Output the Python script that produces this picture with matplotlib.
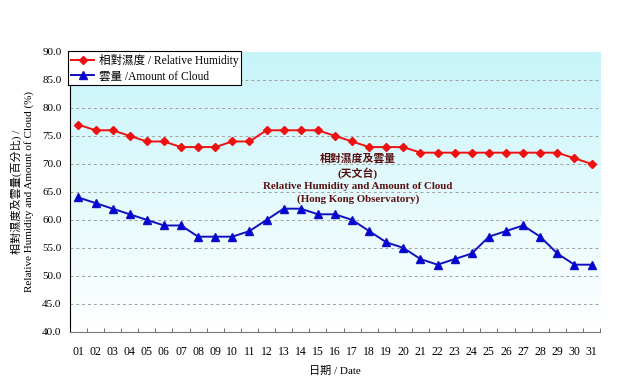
import matplotlib
matplotlib.use('Agg')
import matplotlib.pyplot as plt
import numpy as np

plt.rcParams['font.family'] = ['Liberation Serif', 'Noto Sans CJK TC', 'DejaVu Sans']

# Daily values
days = np.arange(1, 32)
day_labels = ['%02d' % d for d in days]
humidity = [77, 76, 76, 75, 74, 74, 73, 73, 73, 74, 74, 76, 76, 76, 76, 75,
            74, 73, 73, 73, 72, 72, 72, 72, 72, 72, 72, 72, 72, 71, 70]
cloud = [64, 63, 62, 61, 60, 59, 59, 57, 57, 57, 58, 60, 62, 62, 61, 61,
         60, 58, 56, 55, 53, 52, 53, 54, 57, 58, 59, 57, 54, 52, 52]
y_ticks = np.arange(40, 90.1, 5)

fig = plt.figure(figsize=(6.35, 3.9), dpi=100, facecolor='white')
ax = fig.add_axes([0.110, 0.149, 0.835, 0.718])

# background gradient (light cyan at top -> white at bottom)
grad = np.linspace(0, 1, 256).reshape(-1, 1)
top = np.array([0.78, 0.96, 0.98])
bot = np.array([1.0, 1.0, 1.0])
img = bot + (top - bot) * grad
ax.imshow(img.reshape(256, 1, 3), extent=[0, 1, 0, 1], transform=ax.transAxes,
          origin='lower', aspect='auto', zorder=0)

for yv in y_ticks[1:-1]:
    ax.axhline(yv, color='#a0a0a0', lw=0.7, ls=(0, (3, 3)), zorder=1)

ax.plot(days, humidity, color='#ee1111', lw=1.4, marker='D', ms=4,
        label='相對濕度 / Relative Humidity', zorder=3)
ax.plot(days, cloud, color='#1010c0', lw=1.4, marker='^', ms=5.5,
        markerfacecolor='#0000dd', label='雲量 /Amount of Cloud', zorder=3)

ax.set_xlim(0.5, 31.5)
ax.set_ylim(40, 90)
ax.set_yticks(y_ticks)
ax.set_yticklabels(['%.1f' % v for v in y_ticks], fontsize=8)
ax.set_xticks(days)
ax.set_xticklabels(day_labels, fontsize=8.5)
ax.set_xticks(np.arange(0.5, 31.6, 1), minor=True)
ax.tick_params(axis='x', which='major', length=0, pad=10)
ax.tick_params(axis='x', which='minor', length=3, direction='in', color='#555555')
ax.tick_params(axis='y', length=0, pad=6)

for s in ['top', 'right']:
    ax.spines[s].set_visible(False)
ax.spines['left'].set_color('black')
ax.spines['bottom'].set_color('#777777')

ax.set_xlabel('日期 / Date', fontsize=8, labelpad=6)
ax.set_ylabel('相對濕度及雲量(百分比) /\nRelative Humidity and Amount of Cloud (%)',
              fontsize=8, labelpad=6)

leg = ax.legend(loc='upper left', bbox_to_anchor=(-0.003, 1.003), fontsize=8.3,
                frameon=True, fancybox=False, edgecolor='black', framealpha=1,
                borderpad=0.25, labelspacing=0.3, handlelength=2.0, handletextpad=0.4,
                borderaxespad=0)
leg.get_frame().set_linewidth(0.8)

ax.text(0.543, 0.548, '相對濕度及雲量\n(天文台)\nRelative Humidity and Amount of Cloud\n(Hong Kong Observatory)',
        transform=ax.transAxes, ha='center', va='center', fontsize=7.8,
        fontweight='bold', color='#5a1010', linespacing=1.4)

fig.savefig('out.png', dpi=100, facecolor='white')
